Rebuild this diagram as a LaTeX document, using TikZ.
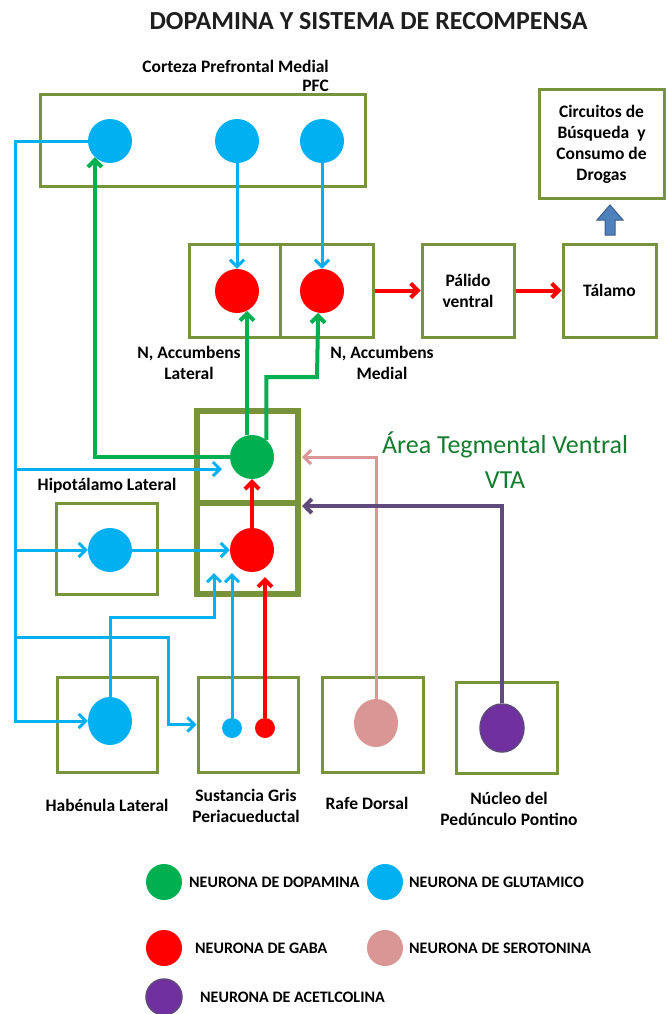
\documentclass[tikz,border=0pt]{standalone}
\usepackage{fontspec}
\setmainfont{Carlito}
\usetikzlibrary{arrows.meta,shapes.geometric}
\definecolor{boxg}{RGB}{119,147,60}
\definecolor{cblue}{RGB}{0,176,240}
\definecolor{cgreen}{RGB}{0,176,80}
\definecolor{cred}{RGB}{255,0,0}
\definecolor{cpink}{RGB}{217,150,148}
\definecolor{cpurple}{RGB}{112,48,160}
\definecolor{cpurpleln}{RGB}{96,74,123}
\definecolor{vtagreen}{RGB}{20,125,45}
\definecolor{titlec}{RGB}{30,30,30}
\definecolor{arrf}{RGB}{79,129,189}
\definecolor{arrb}{RGB}{56,93,138}
\begin{document}
\begin{tikzpicture}[x=1pt,y=-1pt,
  box/.style={draw=boxg, line width=3pt, inner sep=0pt},
  vtabox/.style={draw=boxg, line width=6pt, inner sep=0pt},
  neu/.style={circle, inner sep=0pt, minimum size=44pt},
  eneu/.style={ellipse, inner sep=0pt, minimum width=44pt, minimum height=48pt},
  leg/.style={circle, inner sep=0pt, minimum size=36pt},
  lbl/.style={font=\fontsize{17.5}{21}\selectfont\bfseries, align=center, inner sep=0pt},
  legtxt/.style={font=\fontsize{16}{18}\selectfont\bfseries, anchor=west, inner sep=0pt},
  blueln/.style={draw=cblue, line width=3pt},
  greenln/.style={draw=cgreen, line width=4pt},
  redln/.style={draw=cred, line width=4pt},
  pinkln/.style={draw=cpink, line width=3pt},
  purpleln/.style={draw=cpurpleln, line width=4pt},
  arr/.style={-{Straight Barb[length=7pt,width=14pt]}}
]
\useasboundingbox[fill=white] (0,0) rectangle (667,1014);

% title
\node[font=\fontsize{26}{30}\selectfont\bfseries, text=titlec, inner sep=0pt] (title) at (368.5,21) {DOPAMINA Y SISTEMA DE RECOMPENSA};

% boxes
\node[box, minimum width=325pt, minimum height=91pt] (pfc) at (202.5,140.5) {};
\node[box, minimum width=91pt, minimum height=93pt] (nacl) at (234.5,290.5) {};
\node[box, minimum width=93pt, minimum height=93pt] (nacm) at (326.5,290.5) {};
\node[box, minimum width=92pt, minimum height=93pt, lbl] (palido) at (468,290.5) {Pálido\\ventral};
\node[box, minimum width=93pt, minimum height=93pt, lbl] (talamo) at (609.5,290.5) {Tálamo};
\node[box, minimum width=125pt, minimum height=108pt, lbl] (circ) at (601.5,144) {Circuitos de\\Búsqueda\ \ y\\Consumo de\\Drogas};
\node[box, minimum width=101pt, minimum height=91pt] (hipot) at (106.5,548.5) {};
\node[box, minimum width=100pt, minimum height=95pt] (haben) at (107,724.5) {};
\node[box, minimum width=100pt, minimum height=95pt] (sgp) at (248,724.5) {};
\node[box, minimum width=101pt, minimum height=95pt] (rafe) at (372.5,724.5) {};
\node[box, minimum width=101pt, minimum height=91pt] (nucleo) at (506.5,727.5) {};
\node[vtabox, minimum width=101pt, minimum height=92pt] (vtatop) at (247.5,457) {};
\node[vtabox, minimum width=101pt, minimum height=91pt] (vtabot) at (247.5,548.5) {};

% neurons
\node[neu, fill=cblue] (pfc1) at (110,141) {};
\node[neu, fill=cblue] (pfc2) at (237,141) {};
\node[neu, fill=cblue] (pfc3) at (322,141) {};
\node[neu, fill=cred] (acl) at (237,291) {};
\node[neu, fill=cred] (acm) at (322,291) {};
\node[neu, fill=cgreen] (da) at (252,457) {};
\node[neu, fill=cred] (gaba) at (252,550) {};
\node[neu, fill=cblue] (hip) at (110,550) {};
\node[eneu, fill=cblue] (hab) at (110,721) {};
\node[circle, inner sep=0pt, minimum size=20pt, fill=cblue] (sgb) at (232,728) {};
\node[circle, inner sep=0pt, minimum size=20pt, fill=cred] (sgr) at (265,728) {};
\node[eneu, fill=cpink] (raf) at (376,723) {};
\node[eneu, fill=cpurple, draw=cpurpleln, line width=1.5pt] (ppt) at (502,728) {};

% coordinates
\coordinate (b0) at (15,141);
\coordinate (b1) at (15,469);
\coordinate (t1) at (222,469);
\coordinate (b2) at (15,550);
\coordinate (b4) at (15,637);
\coordinate (k1) at (168,724.5);
\coordinate (k2) at (214,617);
\coordinate (t2) at (214,573);
\coordinate (t3) at (265,577);
\coordinate (gk) at (317,377);
\coordinate (t5) at (302,457);
\coordinate (t6) at (302,506);

% blue connectors
\draw[blueln, arr] (pfc1.west) -- (b0) |- (hab.west);
\draw[blueln, arr] (b1) -- (t1);
\draw[blueln, arr] (b2) -- (hip.west);
\draw[blueln, arr] (hip.east) -- (gaba.west);
\draw[blueln, arr] (b4) -| (k1) -- (sgp.west);
\draw[blueln, arr] (hab.north) |- (k2) -- (t2);
\draw[blueln, arr] (sgb.north) -- (sgb.north |- t2);
\draw[blueln, arr] (pfc2.south) -- (acl.north);
\draw[blueln, arr] (pfc3.south) -- (acm.north);

% red connectors
\draw[redln, arr] (sgr.north) -- (sgr.north |- t3);
\draw[redln, arr] (gaba.north) -- (da.south);
\draw[redln, arr] (nacm.east) -- (palido.west);
\draw[redln, arr] (palido.east) -- (talamo.west);

% green connectors
\draw[greenln, arr] (da.west) -| (pfc1.-133);
\draw[greenln, arr] (da.103) -- (da.103 |- acl.-63);
\draw[greenln, arr] (da.50.5) |- (gk) -- (acm.-100.5);

% pink and purple
\draw[pinkln, arr] (raf.north) |- (t5);
\draw[purpleln, arr] (ppt.north) |- (t6);

% block arrow
\draw[draw=arrb, fill=arrf, line width=1pt, line join=miter] (605,235) -- (605,220) -- (597,220) -- (610,205) -- (623,220) -- (615,220) -- (615,235) -- cycle;

% labels
\node[lbl, font=\fontsize{17.5}{19}\selectfont\bfseries, align=right, anchor=east] (pfcl) at (329,76) {Corteza Prefrontal Medial\\PFC};
\node[lbl] (nacllbl) at (189,363) {N, Accumbens\\Lateral};
\node[lbl] (nacmlbl) at (382,363) {N, Accumbens\\Medial};
\node[lbl] (hiplbl) at (107,486) {Hipotálamo Lateral};
\node[font=\fontsize{26}{35}\selectfont, text=vtagreen, align=center, inner sep=0pt] (vtalbl) at (505,460) {Área Tegmental Ventral\\VTA};
\node[lbl] (hablbl) at (107,805) {Habénula Lateral};
\node[lbl] (sgplbl) at (246,806) {Sustancia Gris\\Periacueductal};
\node[lbl] (raflbl) at (367,803) {Rafe Dorsal};
\node[lbl] (pptlbl) at (509,809) {Núcleo del\\Pedúnculo Pontino};

% legend
\node[leg, fill=cgreen] (lg1) at (164,882) {};
\node[legtxt] (lt1) at (189,882) {NEURONA DE DOPAMINA};
\node[leg, fill=cblue] (lg2) at (385,882) {};
\node[legtxt] (lt2) at (409,882) {NEURONA DE GLUTAMICO};
\node[leg, fill=cred] (lg3) at (164,948) {};
\node[legtxt] (lt3) at (195,948) {NEURONA DE GABA};
\node[leg, fill=cpink] (lg4) at (385,948) {};
\node[legtxt] (lt4) at (409,948) {NEURONA DE SEROTONINA};
\node[leg, fill=cpurple, draw=cpurpleln, line width=1.5pt] (lg5) at (164,997) {};
\node[legtxt] (lt5) at (200,997) {NEURONA DE ACETLCOLINA};
\end{tikzpicture}
\end{document}
